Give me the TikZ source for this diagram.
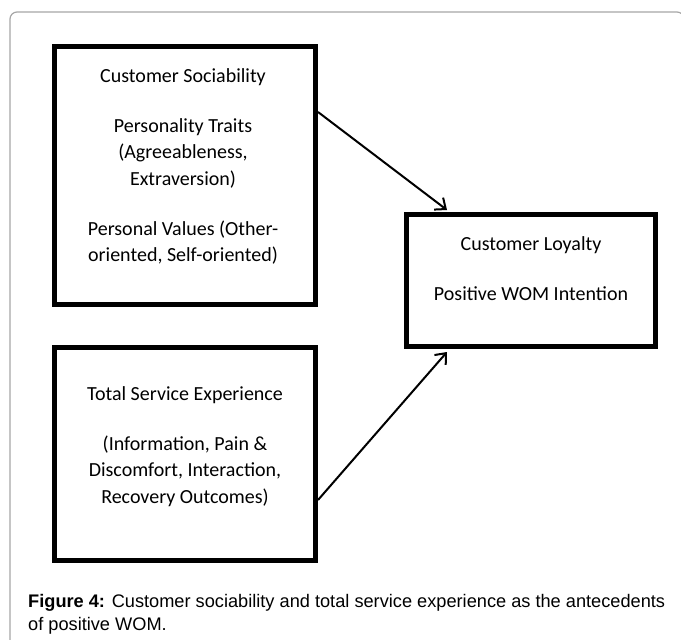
\documentclass[tikz,border=0pt]{standalone}
\usepackage{fontspec}
\setmainfont{Liberation Sans}
\newfontfamily\boxfont{Carlito}
\usetikzlibrary{arrows.meta}
\begin{document}
\begin{tikzpicture}[x=1pt,y=-1pt,
  frame/.style={draw=black!35, line width=1.2pt, rounded corners=7pt},
  blk/.style={draw, line width=5pt, inner sep=0pt, rectangle},
  txt/.style={font=\boxfont\fontsize{20}{26.5}\selectfont, anchor=base, inner sep=0pt},
  arr/.style={line width=2pt, -{Straight Barb[length=9pt,width=15pt,line width=2pt]}},
  captext/.style={font=\fontsize{18.2}{23}\selectfont, anchor=base west, inner sep=0pt}]
\useasboundingbox (0,0) rectangle (681,640);
\draw[frame] (10,700) -- (10,12) -- (684,12) -- (684,700);
% boxes
\node[blk, minimum width=261pt, minimum height=258pt] (s1) at (185,175.5) {};
\node[blk, minimum width=249pt, minimum height=132pt] (s2) at (531,280.5) {};
\node[blk, minimum width=261pt, minimum height=213pt] (s3) at (185,454) {};
% texts
\node[txt] (t1) at (183,82) {\begin{tabular}[t]{@{}c@{}}Customer Sociability\\[23.5pt]Personality Traits\\(Agreeableness,\\Extraversion)\\[23.5pt]Personal Values (Other-\\oriented, Self-oriented)\end{tabular}};
\node[txt] (t2) at (531,250) {\begin{tabular}[t]{@{}c@{}}Customer Loyalty\\[23.5pt]Positive WOM Intention\end{tabular}};
\node[txt] (t3) at (185,400) {\begin{tabular}[t]{@{}c@{}}Total Service Experience\\[23.5pt](Information, Pain \&\\Discomfort, Interaction,\\Recovery Outcomes)\end{tabular}};
% arrows
\draw[arr] ([yshift=63.5pt]s1.east) -- ([xshift=43pt,yshift=2pt]s2.north west);
\draw[arr] ([yshift=-46pt]s3.east) -- ([xshift=43pt,yshift=-3pt]s2.south west);
% caption
\node[captext] (c1) at (28,607) {\textbf{Figure 4:} Customer sociability and total service experience as the antecedents};
\node[captext] (c2) at (28,630) {of positive WOM.};
\end{tikzpicture}
\end{document}
